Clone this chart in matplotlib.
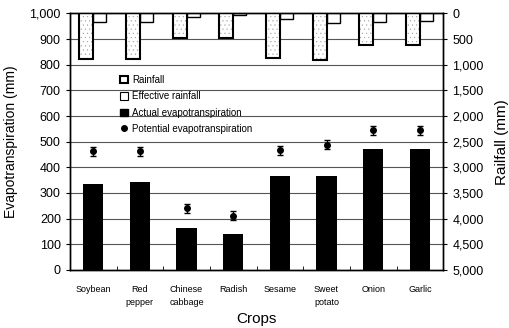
import matplotlib
matplotlib.use('Agg')
import matplotlib.pyplot as plt
from matplotlib.ticker import FuncFormatter
from matplotlib.patches import Patch
from matplotlib.lines import Line2D
import numpy as np

plt.rcParams.update({
    'font.family': 'sans-serif',
    'font.sans-serif': ['Liberation Sans', 'Arial', 'DejaVu Sans'],
    'hatch.linewidth': 0.3,
})

# Data
crops = ['Soybean', 'Red\npepper', 'Chinese\ncabbage', 'Radish',
         'Sesame', 'Sweet\npotato', 'Onion', 'Garlic']
actual_et = [335, 341, 163, 139, 368, 367, 470, 470]
potential_et = [462, 462, 241, 211, 466, 488, 544, 544]
potential_err = [18, 18, 18, 18, 18, 18, 18, 18]
rainfall = [896, 896, 487, 487, 877, 910, 617, 617]
effective_rainfall = [175, 175, 66, 33, 117, 195, 163, 143]

comma = FuncFormatter(lambda v, p: f'{int(v):,}')

fig = plt.figure(figsize=(5.1, 3.28), dpi=100)
ax = fig.add_axes([0.137, 0.177, 0.732, 0.782])
x = np.arange(len(crops))

# grid
for v in range(100, 1000, 100):
    ax.axhline(v, color='#555555', lw=0.8, zorder=0)

ax.bar(x, actual_et, width=0.43, color='black', zorder=2)
ax.errorbar(x, potential_et, yerr=potential_err, fmt='o', color='black',
            ms=4, capsize=2, elinewidth=1, capthick=1, zorder=3)

ax.set_xlim(-0.5, len(crops) - 0.5)
ax.set_ylim(0, 1000)
ax.set_yticks(range(0, 1001, 100))
ax.yaxis.set_major_formatter(comma)
ax.set_xticks(x)
ax.set_xticklabels(crops, fontsize=6.5, linespacing=1.6, va='top')
ax.tick_params(axis='x', length=0, pad=11)
ax.set_xticks(np.arange(0.5, len(crops) - 1, 1), minor=True)
ax.tick_params(axis='x', which='minor', length=3, direction='in')
ax.tick_params(axis='y', labelsize=9, length=3, direction='out')
ax.set_ylabel('Evapotranspiration (mm)', fontsize=10, labelpad=8)
ax.set_xlabel('Crops', fontsize=11, labelpad=3)

# rainfall on inverted secondary axis
ax2 = ax.twinx()
ax2.set_ylim(5000, 0)
ax2.set_yticks(range(0, 5001, 500))
ax2.yaxis.set_major_formatter(comma)
ax2.tick_params(axis='y', labelsize=9, length=3)
ax2.set_ylabel('Railfall (mm)', fontsize=11, labelpad=8)

ax2.bar(x - 0.15, rainfall, width=0.3, color='white', hatch='....',
        edgecolor='#a0a0a0', lw=0, zorder=2)
ax2.bar(x - 0.15, rainfall, width=0.3, facecolor='none',
        edgecolor='black', lw=1.5, zorder=3)
ax2.bar(x + 0.14, effective_rainfall, width=0.28, color='white',
        edgecolor='black', lw=1.0, zorder=2)

for a in (ax, ax2):
    for s in a.spines.values():
        s.set_linewidth(1.0)

handles = [
    Patch(facecolor='white', edgecolor='black', lw=1.5),
    Patch(facecolor='white', edgecolor='black', lw=0.8),
    Patch(facecolor='black', edgecolor='black'),
    Line2D([], [], marker='o', color='black', ls='none', ms=4),
]
labels = ['Rainfall', 'Effective rainfall', 'Actual evapotranspiration',
          'Potential evapotranspiration']
ax2.legend(handles, labels, loc='upper left', bbox_to_anchor=(0.125, 0.775),
           frameon=False, fontsize=7, handlelength=0.8, handleheight=0.8,
           handletextpad=0.4, labelspacing=0.65, borderaxespad=0)

fig.savefig('out.png', dpi=100)
